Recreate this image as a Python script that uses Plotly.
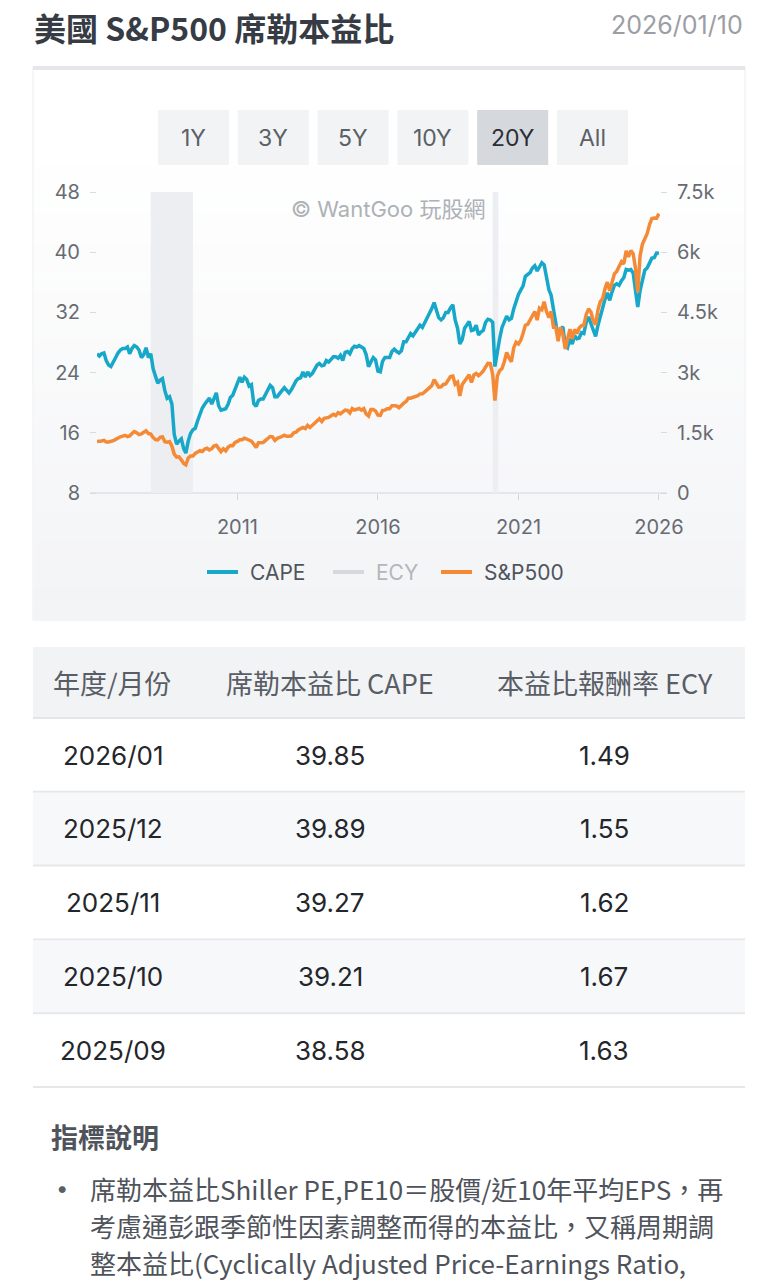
import plotly.graph_objects as go
import pandas as pd

# ---------------- data ----------------
cape_2006 = [26.5, 26.2, 26.5, 26.6, 25.6, 25.0, 24.8, 25.3, 26.0, 26.6, 27.0, 27.2]
cape_2007 = [27.2, 27.4, 26.5, 27.2, 27.6, 27.4, 27.0, 26.0, 26.4, 27.3, 26.0, 26.5]
cape_2008 = [24.5, 23.5, 22.6, 23.0, 23.2, 21.6, 20.6, 20.8, 19.8, 15.8, 14.5, 14.9]
cape_2009 = [15.2, 13.9, 13.3, 14.9, 15.9, 16.4, 16.6, 17.6, 18.5, 19.3, 19.8, 20.3]
cape_2010 = [20.6, 19.8, 20.6, 21.3, 19.6, 19.0, 19.1, 19.2, 19.8, 20.7, 21.0, 21.9]
cape_2011 = [22.6, 23.4, 22.7, 23.4, 23.1, 22.2, 22.4, 19.9, 19.5, 20.3, 20.5, 20.5]
cape_2012 = [21.2, 21.9, 22.3, 22.0, 20.8, 20.8, 21.3, 21.6, 22.0, 21.7, 21.3, 21.7]
cape_2013 = [22.4, 22.9, 23.2, 23.3, 24.1, 23.4, 24.1, 23.6, 23.9, 24.4, 25.0, 25.2]
cape_2014 = [24.9, 25.0, 25.6, 25.4, 25.7, 26.1, 26.1, 25.9, 26.3, 25.6, 26.7, 26.8]
cape_2015 = [26.5, 27.2, 27.5, 27.4, 27.6, 27.4, 27.2, 26.4, 24.8, 25.4, 26.0, 25.7]
cape_2016 = [24.2, 24.1, 25.5, 26.0, 26.0, 26.0, 26.8, 27.1, 26.8, 26.6, 26.9, 28.1]
cape_2017 = [28.1, 28.7, 29.2, 28.9, 29.4, 29.8, 30.3, 30.0, 30.6, 31.2, 31.9, 32.5]
cape_2018 = [33.3, 32.1, 31.3, 31.0, 31.3, 32.0, 32.0, 32.6, 33.0, 31.0, 29.9, 27.8]
cape_2019 = [28.4, 29.9, 30.3, 30.8, 29.6, 29.7, 30.3, 29.0, 29.4, 29.6, 30.7, 31.1]
cape_2020 = [31.0, 30.7, 24.8, 27.0, 28.5, 30.0, 30.7, 31.5, 31.0, 31.2, 32.5, 33.5]
cape_2021 = [34.4, 35.0, 35.5, 36.8, 37.0, 37.3, 37.9, 38.2, 37.5, 38.0, 38.6, 38.3]
cape_2022 = [36.9, 35.0, 34.3, 32.6, 30.6, 28.7, 29.7, 30.1, 27.6, 27.3, 28.5, 27.8]
cape_2023 = [28.9, 28.5, 28.6, 29.3, 29.2, 30.7, 31.4, 30.6, 29.5, 28.8, 30.3, 31.5]
cape_2024 = [32.5, 33.8, 34.6, 33.6, 34.7, 35.6, 35.8, 35.6, 36.2, 36.6, 37.7, 37.6]
cape_2025 = [37.7, 37.2, 35.0, 32.7, 34.9, 36.3, 37.6, 37.9, 38.58, 39.21, 39.27, 39.89]
cape_2026 = [39.85]

spx_2006 = [1280, 1281, 1295, 1311, 1270, 1270, 1277, 1304, 1336, 1378, 1401, 1418]
spx_2007 = [1438, 1407, 1421, 1482, 1531, 1503, 1455, 1474, 1527, 1549, 1481, 1468]
spx_2008 = [1379, 1331, 1323, 1386, 1400, 1280, 1267, 1283, 1166, 969, 896, 903]
spx_2009 = [826, 735, 700, 873, 919, 919, 987, 1021, 1057, 1036, 1096, 1115]
spx_2010 = [1074, 1104, 1169, 1187, 1089, 1031, 1102, 1049, 1141, 1183, 1181, 1258]
spx_2011 = [1286, 1327, 1326, 1364, 1345, 1321, 1292, 1219, 1131, 1253, 1247, 1258]
spx_2012 = [1312, 1366, 1408, 1398, 1310, 1362, 1379, 1407, 1441, 1412, 1416, 1426]
spx_2013 = [1498, 1515, 1569, 1598, 1631, 1606, 1686, 1633, 1682, 1757, 1806, 1848]
spx_2014 = [1783, 1859, 1872, 1884, 1924, 1960, 1931, 2003, 1972, 2018, 2068, 2059]
spx_2015 = [1995, 2105, 2068, 2086, 2107, 2063, 2104, 1972, 1920, 2079, 2080, 2044]
spx_2016 = [1940, 1932, 2060, 2065, 2097, 2099, 2174, 2171, 2168, 2126, 2199, 2239]
spx_2017 = [2279, 2364, 2363, 2384, 2412, 2423, 2470, 2472, 2519, 2575, 2648, 2674]
spx_2018 = [2824, 2714, 2641, 2648, 2705, 2718, 2816, 2902, 2914, 2712, 2760, 2420]
spx_2019 = [2704, 2784, 2834, 2946, 2752, 2942, 2980, 2926, 2977, 3038, 3141, 3231]
spx_2020 = [3226, 2954, 2300, 2912, 3044, 3100, 3271, 3500, 3363, 3270, 3622, 3756]
spx_2021 = [3714, 3811, 3973, 4181, 4204, 4298, 4395, 4523, 4308, 4605, 4567, 4766]
spx_2022 = [4516, 4374, 4530, 4132, 4132, 3785, 4130, 3955, 3586, 3872, 4080, 3840]
spx_2023 = [4077, 3970, 4109, 4169, 4180, 4450, 4589, 4508, 4288, 4194, 4568, 4770]
spx_2024 = [4846, 5096, 5254, 5036, 5278, 5460, 5522, 5648, 5762, 5705, 6032, 5882]
spx_2025 = [6041, 5955, 5612, 5000, 5912, 6205, 6339, 6460, 6688, 6840, 6849, 6845]
spx_2026 = [6960]

recession_start = ["2007-12-01", "2020-02-01"]
recession_end = ["2009-06-01", "2020-04-15"]

table_months = ["2026/01", "2025/12", "2025/11", "2025/10", "2025/09"]
table_cape = ["39.85", "39.89", "39.27", "39.21", "38.58"]
table_ecy = ["1.49", "1.55", "1.62", "1.67", "1.63"]
table_headers = ["年度/月份", "席勒本益比 CAPE", "本益比報酬率 ECY"]

range_buttons = ["1Y", "3Y", "5Y", "10Y", "20Y", "All"]
left_ticks = [8, 16, 24, 32, 40, 48]
right_ticks = [0, 1500, 3000, 4500, 6000, 7500]
right_tick_text = ["0", "1.5k", "3k", "4.5k", "6k", "7.5k"]
x_ticks = ["2011-01-01", "2016-01-01", "2021-01-01", "2026-01-01"]
x_tick_text = ["2011", "2016", "2021", "2026"]

cape = (cape_2006 + cape_2007 + cape_2008 + cape_2009 + cape_2010 + cape_2011 + cape_2012
        + cape_2013 + cape_2014 + cape_2015 + cape_2016 + cape_2017 + cape_2018 + cape_2019
        + cape_2020 + cape_2021 + cape_2022 + cape_2023 + cape_2024 + cape_2025 + cape_2026)
spx = (spx_2006 + spx_2007 + spx_2008 + spx_2009 + spx_2010 + spx_2011 + spx_2012
       + spx_2013 + spx_2014 + spx_2015 + spx_2016 + spx_2017 + spx_2018 + spx_2019
       + spx_2020 + spx_2021 + spx_2022 + spx_2023 + spx_2024 + spx_2025 + spx_2026)
dates = pd.date_range("2006-01-01", periods=len(cape), freq="MS")

# ---------------- layout helpers ----------------
W, H = 777, 1280
PL, PR, PT, PB = 97, 660, 192, 493


def px(x):
    return (x - PL) / (PR - PL)


def py(y):
    return (PB - y) / (PB - PT)


FONT = "Inter, Noto Sans CJK TC, sans-serif"
CJK = "Noto Sans CJK TC, Inter, sans-serif"
CAPE_C = "#17a7c8"
SPX_C = "#f58a36"
ECY_C = "#d6d8dc"

shapes = []
ann = []


def rect(x0, y0, x1, y1, fill, line=None, lw=0, layer="below"):
    shapes.append(dict(type="rect", xref="paper", yref="paper",
                       x0=px(x0), x1=px(x1), y0=py(y1), y1=py(y0),
                       fillcolor=fill, line=dict(color=line or fill, width=lw), layer=layer))


def hline(x0, x1, y, color, w=1, layer="below"):
    shapes.append(dict(type="line", xref="paper", yref="paper",
                       x0=px(x0), x1=px(x1), y0=py(y), y1=py(y),
                       line=dict(color=color, width=w), layer=layer))


def text(x, y, s, size, color, anchor="center", family=FONT):
    ann.append(dict(xref="paper", yref="paper", x=px(x), y=py(y), text=s, showarrow=False,
                    xanchor=anchor, yanchor="middle", font=dict(size=size, color=color, family=family)))


# title
text(32, 27, "<b>美國 S&P500 席勒本益比</b>", 32, "#363b44", "left", CJK)
text(745, 25, "2026/01/10", 25, "#9b9ea4", "right")

# card
rect(33, 67, 745, 620, "#ffffff", "#ededef", 1)
n_strips = 30
top_g, bot_g = 150, 620
for i in range(n_strips):
    y0 = top_g + (bot_g - top_g) * i / n_strips
    y1 = top_g + (bot_g - top_g) * (i + 1) / n_strips
    t = (i + 1) / n_strips
    r = round(255 - 12 * t)
    g = round(255 - 11 * t)
    b = round(255 - 9 * t)
    rect(34, y0, 744, y1 + 0.5, f"rgb({r},{g},{b})")
rect(33, 66, 745, 70, "#e4e6e9")

# range buttons
for i, lab in enumerate(range_buttons):
    x0 = 158 + i * 79.8
    sel = lab == "20Y"
    rect(x0, 110, x0 + 71, 165, "#d5d8dd" if sel else "#f2f3f5")
    text(x0 + 35.5, 138, lab, 23, "#2a2d33" if sel else "#5b5f66")

# watermark
text(388, 209, "© WantGoo 玩股網", 22, "#aeb1b6", "center", FONT)

# x baseline
hline(90, 667, 493, "#dfe1e4", 1.5)

# recession bands
for s, e in zip(recession_start, recession_end):
    shapes.append(dict(type="rect", xref="x", yref="paper", x0=s, x1=e, y0=0, y1=1,
                       fillcolor="#eceef1", line=dict(width=0), layer="below"))

# legend (manual)
leg = [("CAPE", CAPE_C, "#50545c", 207), ("ECY", ECY_C, "#b3b6bb", 333), ("S&P500", SPX_C, "#50545c", 441)]
for name, col, tcol, x0 in leg:
    hline(x0, x0 + 31, 572, col, 4, "above")
    text(x0 + 41, 572, name, 21, tcol, "left")

# table
rect(33, 647, 745, 718, "#f2f3f5")
hline(33, 745, 718, "#e3e5e8", 2)
col_x = [113, 330, 604]
for cx, h in zip([112, 330, 605], table_headers):
    text(cx, 682, h, 27, "#595d65", "center", CJK)
row_h = 73.8
for i, (m, c, e) in enumerate(zip(table_months, table_cape, table_ecy)):
    y0 = 718 + i * row_h
    if i % 2 == 1:
        rect(33, y0 + 1, 745, y0 + row_h, "#f7f8fa")
    hline(33, 745, y0 + row_h, "#e6e7ea", 2)
    for cx, s in zip(col_x, [m, c, e]):
        text(cx, y0 + 37, s, 26, "#23262b")

# explanation
text(49, 1136, "<b>指標說明</b>", 27, "#4f535b", "left", CJK)
text(62, 1188, "•", 22, "#5a5e66", "center")
body = ["席勒本益比Shiller PE,PE10＝股價/近10年平均EPS，再",
        "考慮通彭跟季節性因素調整而得的本益比，又稱周期調",
        "整本益比(Cyclically Adjusted Price-Earnings Ratio,"]
for i, line in enumerate(body):
    text(88, 1188 + i * 37, line, 26, "#4f535b", "left", CJK)

# ---------------- figure ----------------
fig = go.Figure()
fig.add_trace(go.Scatter(x=dates, y=cape, mode="lines", name="CAPE",
                         line=dict(color=CAPE_C, width=3.5), yaxis="y", showlegend=False))
fig.add_trace(go.Scatter(x=dates, y=spx, mode="lines", name="S&P500",
                         line=dict(color=SPX_C, width=3.5), yaxis="y2", showlegend=False))

axis_font = dict(size=20, color="#676b72", family=FONT)
fig.update_layout(
    width=W, height=H, autosize=False,
    margin=dict(l=PL, r=W - PR, t=PT, b=H - PB, pad=0),
    paper_bgcolor="#ffffff", plot_bgcolor="rgba(0,0,0,0)",
    showlegend=False,
    shapes=shapes, annotations=ann,
    xaxis=dict(type="date", range=["2006-01-01", "2026-01-15"], tickvals=x_ticks, ticktext=x_tick_text,
               showgrid=False, zeroline=False, showline=False, ticks="outside", ticklen=6,
               tickcolor="#d3d6da", tickwidth=1, tickfont=axis_font, ticklabelstandoff=10,
               fixedrange=True),
    yaxis=dict(range=[8, 48], tickvals=left_ticks, showgrid=False, zeroline=False, showline=False,
               ticks="outside", ticklen=6, tickcolor="#d8dbdf", tickwidth=1, tickfont=axis_font,
               ticklabelstandoff=6, fixedrange=True),
    yaxis2=dict(range=[0, 7500], tickvals=right_ticks, ticktext=right_tick_text, overlaying="y",
                side="right", showgrid=False, zeroline=False, showline=False, ticks="outside",
                ticklen=6, tickcolor="#d8dbdf", tickwidth=1, tickfont=axis_font,
                ticklabelstandoff=6, fixedrange=True),
    font=dict(family=FONT),
)

fig.write_html("out.html", config={"displayModeBar": False})
